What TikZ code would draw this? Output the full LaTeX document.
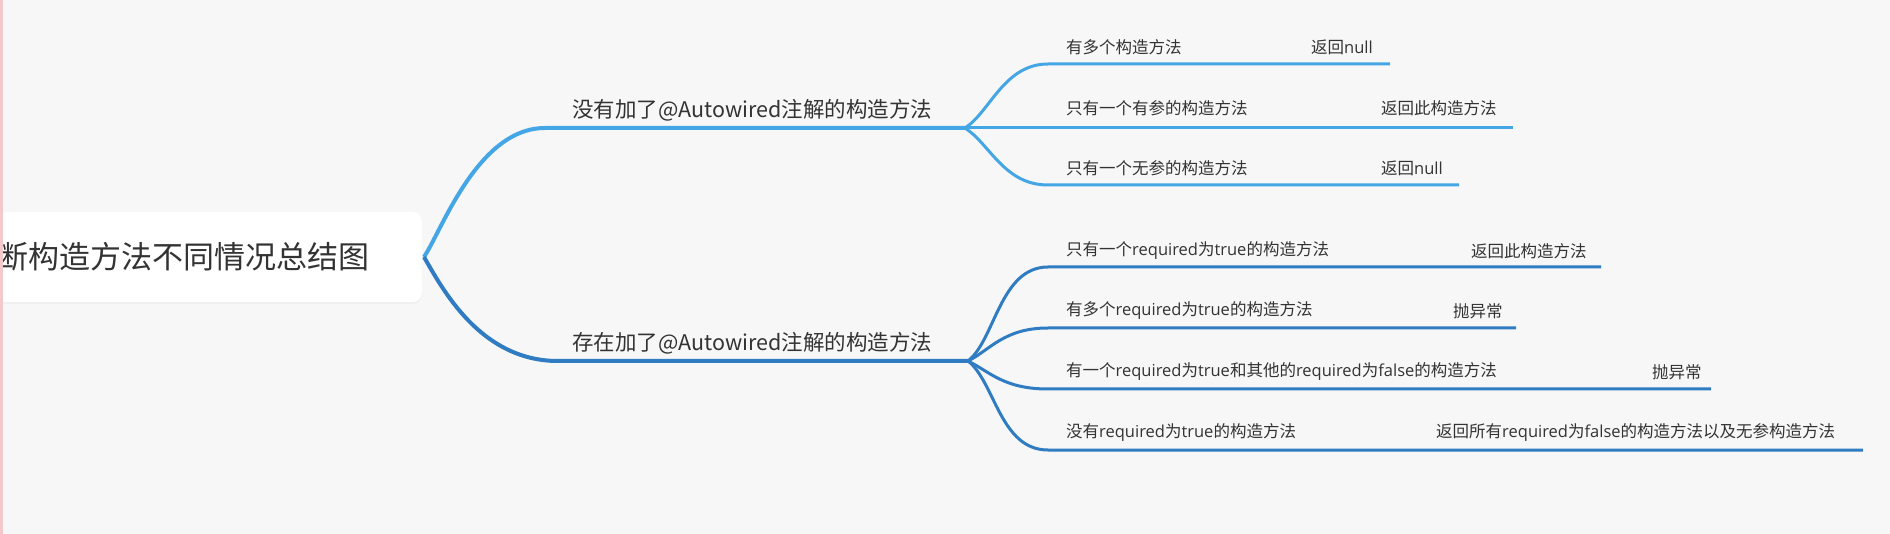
\documentclass[tikz,border=0pt]{standalone}
\usepackage{fontspec}
\setmainfont{Noto Sans CJK SC}
\newfontfamily\latf{Open Sans}
\usetikzlibrary{shadows}
\definecolor{bgc}{HTML}{F7F7F7}
\definecolor{upc}{HTML}{45A6E6}
\definecolor{loc}{HTML}{2F7CC3}
\definecolor{txtc}{HTML}{333333}
\definecolor{pinkc}{HTML}{F2CACA}
\begin{document}
\begin{tikzpicture}[x=1pt,y=-1pt,
  rootbox/.style={fill=white, rounded corners=9pt, anchor=east, inner xsep=52pt, inner ysep=0pt,
    minimum height=90pt, text=txtc, font=\fontsize{31}{36}\selectfont,
    drop shadow={opacity=0.06, shadow xshift=0pt, shadow yshift=-2pt}},
  blabel/.style={anchor=west, inner sep=0pt, text=txtc, font=\fontsize{21.5}{25}\selectfont},
  clabel/.style={anchor=west, inner sep=0pt, text=txtc, font=\fontsize{16.5}{20}\selectfont},
  upbranch/.style={draw=upc, line width=4pt},
  lobranch/.style={draw=loc, line width=4pt},
  upchild/.style={draw=upc, line width=3pt},
  lochild/.style={draw=loc, line width=3pt}]
\useasboundingbox (0,0) rectangle (1890,534);
\clip (0,0) rectangle (1890,534);
\fill[bgc] (0,0) rectangle (1890,534);

% root
\node[rootbox] (root) at (422,257) {断构造方法不同情况总结图};
\coordinate (rs) at ([xshift=2pt]root.east);

% branch labels
\node[blabel] (b1) at (572,110) {没有加了@Autowired注解的构造方法};
\node[blabel] (b2) at (572,343) {存在加了@Autowired注解的构造方法};

% split points
\coordinate (us) at (965,128);
\coordinate (ls) at (968,361);

% branch connectors
\draw[upbranch] (rs) .. controls (442,230) and (478,128) .. (545,128) -- (us);
\draw[lobranch] (rs) .. controls (442,288) and (480,361) .. (558,361) -- (ls);

% upper children labels
\node[clabel] (u1) at (1066,47) {有多个构造方法};
\node[clabel] (u1r) at (1311,47) {返回{\latf null}};
\node[clabel] (u2) at (1066,108) {只有一个有参的构造方法};
\node[clabel] (u2r) at (1381,108) {返回此构造方法};
\node[clabel] (u3) at (1066,168) {只有一个无参的构造方法};
\node[clabel] (u3r) at (1381,168) {返回{\latf null}};

\coordinate (u1e) at (1390,64);
\coordinate (u2e) at (1513,128);
\coordinate (u3e) at (1459,185);

\draw[upchild] (us) .. controls (990,112) and (1004,64) .. (1048,64) -- (u1e);
\draw[upchild] (us) -- (u2e);
\draw[upchild] (us) .. controls (990,144) and (1004,185) .. (1048,185) -- (u3e);

% lower children labels
\node[clabel] (l1) at (1066,251) {只有一个{\latf required}为{\latf true}的构造方法};
\node[clabel] (l1r) at (1471,251) {返回此构造方法};
\node[clabel] (l2) at (1066,311) {有多个{\latf required}为{\latf true}的构造方法};
\node[clabel] (l2r) at (1453,311) {抛异常};
\node[clabel] (l3) at (1066,372) {有一个{\latf required}为{\latf true}和其他的{\latf required}为{\latf false}的构造方法};
\node[clabel] (l3r) at (1652,372) {抛异常};
\node[clabel] (l4) at (1066,433) {没有{\latf required}为{\latf true}的构造方法};
\node[clabel] (l4r) at (1436,433) {返回所有{\latf required}为{\latf false}的构造方法以及无参构造方法};

\coordinate (l1e) at (1601,267);
\coordinate (l2e) at (1516,328);
\coordinate (l3e) at (1711,389);
\coordinate (l4e) at (1863,450);

\draw[lochild] (ls) .. controls (995,340) and (1000,267) .. (1048,267) -- (l1e);
\draw[lochild] (ls) .. controls (990,350) and (1004,328) .. (1048,328) -- (l2e);
\draw[lochild] (ls) .. controls (990,372) and (1004,389) .. (1048,389) -- (l3e);
\draw[lochild] (ls) .. controls (995,382) and (1000,450) .. (1048,450) -- (l4e);

% left edge strip
\draw[pinkc, line width=3pt] (1.5,0) -- (1.5,534);
\end{tikzpicture}
\end{document}
